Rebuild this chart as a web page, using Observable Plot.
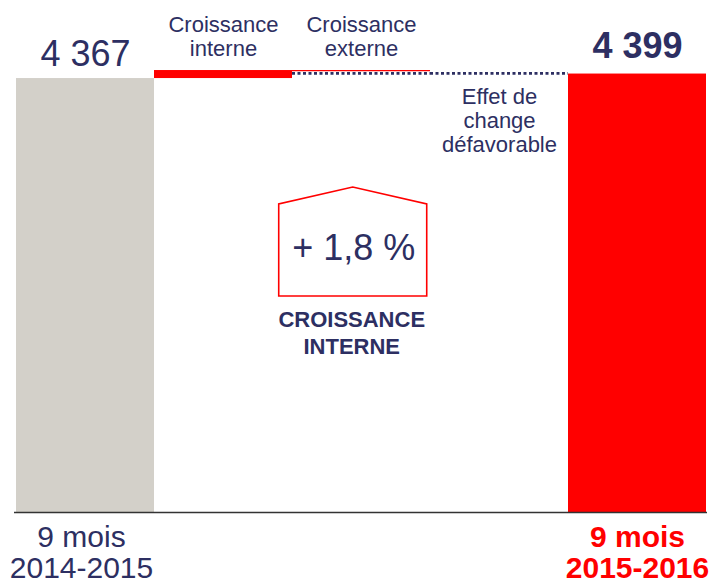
<!DOCTYPE html>
<html>
<head>
<meta charset="utf-8">
<script src="https://cdn.jsdelivr.net/npm/d3@7"></script>
<script src="https://cdn.jsdelivr.net/npm/@observablehq/plot@0.6"></script>
<style>
  html, body { margin: 0; padding: 0; background: #fff; }
  #chart { width: 713px; height: 585px; }
  svg { font-family: "Liberation Sans", Arial, sans-serif; }
</style>
</head>
<body>
<div id="chart"></div>
<script>
// ---- data ----
const categories = ["9 mois 2014-2015", "Croissance interne", "Croissance externe", "Effet de change", "9 mois 2015-2016"];
const startValue = 4367;
const internalEnd = 4424;   // after internal growth
const externalEnd = 4424;   // after external growth (negligible)
const changeEnd = 4404;     // after unfavourable FX effect (connector level)
const endValue = 4399;
const valueLabels = ["4 367", "4 399"];
const stepLabels = ["Croissance\ninterne", "Croissance\nexterne", "Effet de\nchange\ndéfavorable"];
const periodLabels = ["9 mois\n2014-2015", "9 mois\n2015-2016"];
const growthLabel = "+ 1,8 %";
const growthCaption = "CROISSANCE\nINTERNE";

const NAVY = "#2d2f62";
const RED = "#ff0000";
const GREY = "#d3d0c9";
const yDomain = [1281, 4922];

const totals = [
  {cat: categories[0], y1: yDomain[0], y2: startValue, fill: GREY},
  {cat: categories[4], y1: yDomain[0], y2: endValue, fill: RED}
];
const internalBar = [{cat: categories[1], y1: startValue, y2: internalEnd}];

const houseMark = (index, scales, values, dims) => {
  const x = scales.x;
  const bw = x.bandwidth();
  const cx = x(categories[2]) + bw * 0.44;
  const g = d3.create("svg:g");
  const halfW = 74, top = 204, peak = 187, bottom = 296;
  g.append("path")
    .attr("d", `M${cx - halfW},${bottom}V${top}L${cx},${peak}L${cx + halfW},${top}V${bottom}Z`)
    .attr("fill", "none").attr("stroke", RED).attr("stroke-width", 1.6);
  g.append("text").attr("x", cx + 1).attr("y", 260).attr("text-anchor", "middle")
    .attr("font-size", 36).attr("fill", NAVY).text(growthLabel);
  const lines = growthCaption.split("\n");
  lines.forEach((t, i) => {
    g.append("text").attr("x", cx - 1).attr("y", 327 + i * 27).attr("text-anchor", "middle")
      .attr("font-size", 22).attr("font-weight", "bold").attr("fill", NAVY).text(t);
  });
  return g.node();
};

const plot = Plot.plot({
  width: 713,
  height: 585,
  marginLeft: 14,
  marginRight: 6,
  marginTop: 0,
  marginBottom: 73,
  x: {type: "band", domain: categories, padding: 0, axis: null},
  y: {domain: yDomain, axis: null},
  style: {fontFamily: "'Liberation Sans', Arial, sans-serif", background: "#fff"},
  marks: [
    Plot.rectY(totals, {x: "cat", y1: "y1", y2: "y2", fill: "fill"}),
    Plot.rectY(internalBar, {x: "cat", y1: "y1", y2: "y2", fill: RED}),
    // external growth: thin red line at its level
    Plot.tickY([{cat: categories[2], y: externalEnd}], {x: "cat", y: "y", stroke: RED, strokeWidth: 1.3}),
    // FX effect: dashed connector
    Plot.tickY([{cat: categories[2], y: changeEnd}, {cat: categories[3], y: changeEnd}], {x: "cat", y: "y", stroke: NAVY, strokeWidth: 2.8, strokeDasharray: "3,2.5"}),
    Plot.ruleY([yDomain[0]], {stroke: "#333", strokeWidth: 1.5}),
    // value labels
    Plot.text([{cat: categories[0], y: startValue, t: valueLabels[0]}], {x: "cat", y: "y", text: "t", lineAnchor: "bottom", dy: -13, fontSize: 36, fill: NAVY}),
    Plot.text([{cat: categories[4], y: endValue, t: valueLabels[1]}], {x: "cat", y: "y", text: "t", lineAnchor: "bottom", dy: -16, fontSize: 36, fontWeight: "bold", fill: NAVY}),
    // step labels
    Plot.text([{cat: categories[1], y: internalEnd, t: stepLabels[0]}, {cat: categories[2], y: externalEnd, t: stepLabels[1]}],
      {x: "cat", y: "y", text: "t", lineAnchor: "bottom", lineHeight: 1.05, dy: -15, fontSize: 22, fill: NAVY}),
    Plot.text([{cat: categories[3], y: changeEnd, t: stepLabels[2]}],
      {x: "cat", y: "y", text: "t", lineAnchor: "top", lineHeight: 1.09, dy: 14, fontSize: 22, fill: NAVY}),
    // period labels
    Plot.text([{cat: categories[0], y: yDomain[0], t: periodLabels[0]}],
      {x: "cat", y: "y", text: "t", lineAnchor: "top", lineHeight: 1.05, dy: 12, dx: -4, fontSize: 30, fill: NAVY}),
    Plot.text([{cat: categories[4], y: yDomain[0], t: periodLabels[1]}],
      {x: "cat", y: "y", text: "t", lineAnchor: "top", lineHeight: 1.05, dy: 12, dx: 0, fontSize: 30, fontWeight: "bold", fill: RED}),
    houseMark
  ]
});
document.getElementById("chart").appendChild(plot);
</script>
</body>
</html>
